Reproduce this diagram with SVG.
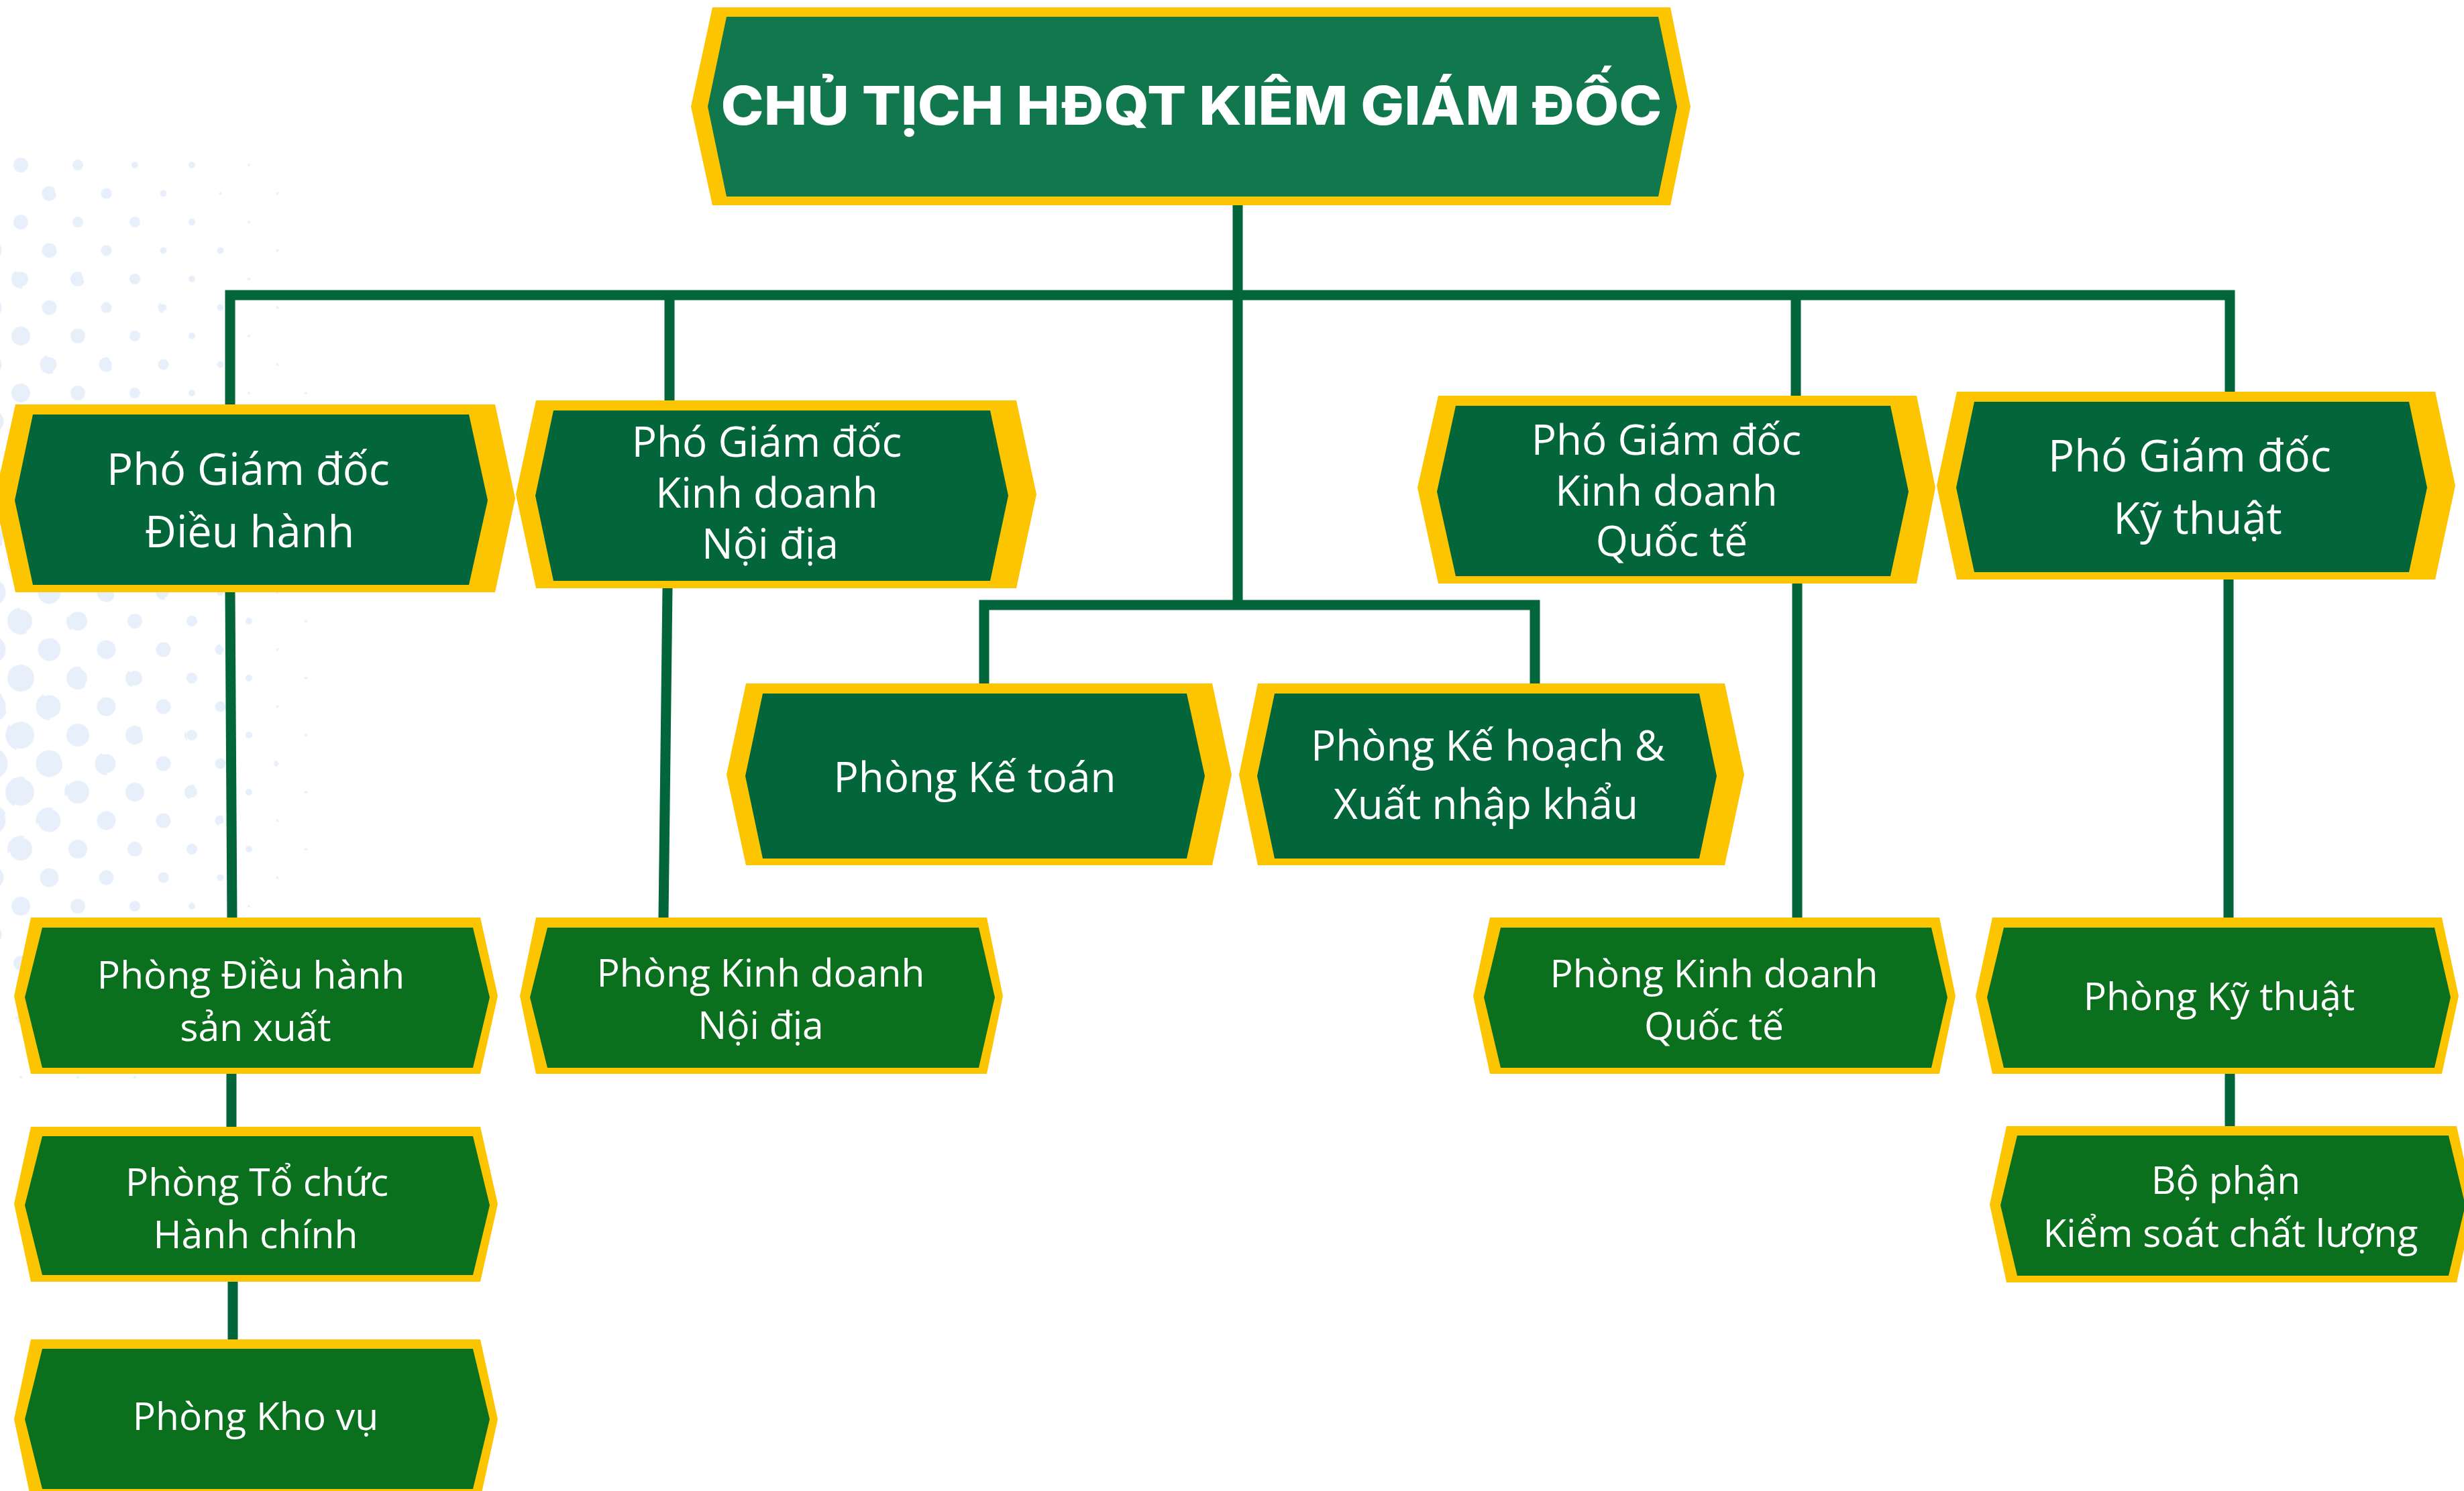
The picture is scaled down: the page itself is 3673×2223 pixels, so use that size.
<svg xmlns="http://www.w3.org/2000/svg" width="3673" height="2223" viewBox="0 0 3673 2223">
<style>
.y{fill:#FDC500}
.gt{fill:#11774D}
.g1{fill:#03663B}
.g2{fill:#0B701E}
.t{fill:#FFFFFF;font-family:"Open Sans","Noto Sans","Liberation Sans",sans-serif;text-anchor:middle}
.t1{font-size:65px}
.t2{font-size:62px}
.t3{font-size:57px}
.title{fill:#FFFFFF;font-family:Inter,"Open Sans","Liberation Sans",sans-serif;font-weight:800;font-size:80px;text-anchor:middle}
.ln{fill:none;stroke:#03653A;stroke-width:15;stroke-linejoin:miter}
</style>
<defs>
<pattern id="d2" patternUnits="userSpaceOnUse" x="-11.5" y="224.75" width="85" height="85"><g fill="#E7EFFA"><circle cx="42.5" cy="21.25" r="2"/><circle cx="0" cy="63.75" r="2"/><circle cx="85" cy="63.75" r="2"/></g></pattern>
<pattern id="d5" patternUnits="userSpaceOnUse" x="-11.5" y="224.75" width="85" height="85"><g fill="#E7EFFA"><circle cx="42.5" cy="21.25" r="5"/><circle cx="0" cy="63.75" r="5"/><circle cx="85" cy="63.75" r="5"/></g></pattern>
<pattern id="d8" patternUnits="userSpaceOnUse" x="-11.5" y="224.75" width="85" height="85"><g fill="#E7EFFA"><circle cx="42.5" cy="21.25" r="8"/><circle cx="0" cy="63.75" r="8"/><circle cx="85" cy="63.75" r="8"/></g></pattern>
<pattern id="d11" patternUnits="userSpaceOnUse" x="-11.5" y="224.75" width="85" height="85"><g fill="#E7EFFA"><circle cx="42.5" cy="21.25" r="11"/><circle cx="0" cy="63.75" r="11"/><circle cx="85" cy="63.75" r="11"/></g></pattern>
<pattern id="d14" patternUnits="userSpaceOnUse" x="-11.5" y="224.75" width="85" height="85"><g fill="#E7EFFA"><circle cx="42.5" cy="21.25" r="14"/><circle cx="42.5" cy="106.25" r="14"/><circle cx="0" cy="63.75" r="14"/><circle cx="85" cy="63.75" r="14"/></g></pattern>
<pattern id="d17" patternUnits="userSpaceOnUse" x="-11.5" y="224.75" width="85" height="85"><g fill="#E7EFFA"><circle cx="42.5" cy="21.25" r="17"/><circle cx="42.5" cy="106.25" r="17"/><circle cx="0" cy="63.75" r="17"/><circle cx="85" cy="63.75" r="17"/></g></pattern>
<pattern id="d20" patternUnits="userSpaceOnUse" x="-11.5" y="224.75" width="85" height="85"><g fill="#E7EFFA"><circle cx="42.5" cy="21.25" r="20"/><circle cx="42.5" cy="106.25" r="20"/><circle cx="0" cy="63.75" r="20"/><circle cx="85" cy="63.75" r="20"/></g></pattern>
<pattern id="d23" patternUnits="userSpaceOnUse" x="-11.5" y="224.75" width="85" height="85"><g fill="#E7EFFA"><circle cx="42.5" cy="21.25" r="23"/><circle cx="42.5" cy="106.25" r="23"/><circle cx="0" cy="63.75" r="23"/><circle cx="85" cy="63.75" r="23"/></g></pattern>
</defs>
<rect x="0" y="0" width="3673" height="2223" fill="#FFFFFF"/>
<g id="background-dots">
<polygon fill="url(#d2)" points="0,222 437,222 465,700 478,1180 448,1400 303,1600 0,1658"/>
<polygon fill="url(#d5)" points="0,222 312,222 381,700 416,1180 339,1400 0,1596"/>
<polygon fill="url(#d8)" points="0,222 187,222 298,700 354,1180 231,1400 0,1534"/>
<polygon fill="url(#d11)" points="0,222 62,222 215,700 291,1180 123,1400 0,1471"/>
<polygon fill="url(#d14)" points="0,337 132,700 229,1180 14,1400 0,1409"/>
<polygon fill="url(#d17)" points="0,567 48,700 166,1180 0,1346"/>
<polygon fill="url(#d20)" points="0,797 104,1180 0,1284"/>
<polygon fill="url(#d23)" points="0,1027 42,1180 0,1222"/>
</g>
<g id="connectors">
<path class="ln" d="M343,604 V440 H3324 V584"/>
<path class="ln" d="M998,440 V597"/>
<path class="ln" d="M2677,440 V590"/>
<path class="ln" d="M1845,306 V902"/>
<path class="ln" d="M1467,1019 V902 H2288 V1019"/>
<path class="ln" d="M343,883 L346,1368"/>
<path class="ln" d="M345,1601 V1680"/>
<path class="ln" d="M347,1911 V1997"/>
<path class="ln" d="M995,877 L989,1368"/>
<path class="ln" d="M2679,870 V1368"/>
<path class="ln" d="M3322,864 V1368"/>
<path class="ln" d="M3324,1601 V1679"/>
</g>
<g id="node-chairman">
<polygon class="y" points="1062,11 2490,11 2520,159 2490,306 1062,306 1030,159"/>
<polygon class="gt" points="1083,25 2472,25 2500,159 2472,293 1083,293 1055,159"/>
<text class="title" x="1776" y="186" textLength="1403" lengthAdjust="spacingAndGlyphs">CHỦ TỊCH HĐQT KIÊM GIÁM ĐỐC</text>
</g>
<g id="node-pgd-dieuhanh">
<polygon class="y" points="23,603 738,603 768,743 738,883 23,883 -8,743"/>
<polygon class="g1" points="49,618 699,618 727,746 699,872 49,872 22,746"/>
<text class="t t1" x="370" y="723">Phó Giám đốc</text>
<text class="t t1" x="372" y="816">Điều hành</text>
</g>
<g id="node-pgd-kd-noidia">
<polygon class="y" points="799,597 1515,597 1545,737 1515,877 799,877 769,737"/>
<polygon class="g1" points="825,612 1476,612 1503,739 1476,866 825,866 798,739"/>
<text class="t t2" x="1143" y="681">Phó Giám đốc</text>
<text class="t t2" x="1143" y="757">Kinh doanh</text>
<text class="t t2" x="1148" y="833">Nội địa</text>
</g>
<g id="node-pgd-kd-quocte">
<polygon class="y" points="2144,590 2857,590 2885,727 2857,870 2144,870 2113,727"/>
<polygon class="g1" points="2170,605 2818,605 2845,733 2818,859 2170,859 2142,733"/>
<text class="t t2" x="2484" y="678">Phó Giám đốc</text>
<text class="t t2" x="2484" y="754">Kinh doanh</text>
<text class="t t2" x="2492" y="829">Quốc tế</text>
</g>
<g id="node-pgd-kythuat">
<polygon class="y" points="2917,584 3630,584 3660,724 3630,864 2917,864 2887,724"/>
<polygon class="g1" points="2943,599 3591,599 3618,727 3591,853 2943,853 2916,727"/>
<text class="t t1" x="3264" y="703">Phó Giám đốc</text>
<text class="t t1" x="3276" y="796">Kỹ thuật</text>
</g>
<g id="node-ketoan">
<polygon class="y" points="1112,1019 1807,1019 1836,1155 1807,1290 1112,1290 1083,1155"/>
<polygon class="g1" points="1137,1034 1769,1034 1796,1157 1769,1280 1137,1280 1111,1157"/>
<text class="t t2" x="1453" y="1181">Phòng Kế toán</text>
</g>
<g id="node-kehoach-xnk">
<polygon class="y" points="1875,1019 2571,1019 2600,1155 2571,1290 1875,1290 1847,1155"/>
<polygon class="g1" points="1900,1034 2533,1034 2559,1157 2533,1280 1900,1280 1874,1157"/>
<text class="t t2" x="2218" y="1134">Phòng Kế hoạch &amp;</text>
<text class="t t2" x="2215" y="1221">Xuất nhập khẩu</text>
</g>
<g id="node-p-dieuhanh-sx">
<polygon class="y" points="46,1368 716,1368 742,1485 716,1601 46,1601 21,1485"/>
<polygon class="g2" points="63,1383 705,1383 730,1487 705,1592 63,1592 37,1487"/>
<text class="t t3" x="374" y="1474">Phòng Điều hành</text>
<text class="t t3" x="381" y="1552">sản xuất</text>
</g>
<g id="node-p-tochuc">
<polygon class="y" points="46,1680 716,1680 742,1795 716,1911 46,1911 21,1795"/>
<polygon class="g2" points="63,1694 705,1694 730,1797 705,1901 63,1901 37,1797"/>
<text class="t t3" x="383" y="1783">Phòng Tổ chức</text>
<text class="t t3" x="381" y="1861">Hành chính</text>
</g>
<g id="node-p-khovu">
<polygon class="y" points="46,1997 716,1997 742,2116 716,2235 46,2235 21,2116"/>
<polygon class="g2" points="63,2011 705,2011 730,2116 705,2220 63,2220 37,2116"/>
<text class="t t3" x="381" y="2132">Phòng Kho vụ</text>
</g>
<g id="node-p-kd-noidia">
<polygon class="y" points="799,1368 1471,1368 1495,1485 1471,1601 799,1601 775,1485"/>
<polygon class="g2" points="816,1383 1459,1383 1483,1487 1459,1592 816,1592 790,1487"/>
<text class="t t3" x="1134" y="1471">Phòng Kinh doanh</text>
<text class="t t3" x="1134" y="1549">Nội địa</text>
</g>
<g id="node-p-kd-quocte">
<polygon class="y" points="2221,1368 2891,1368 2915,1485 2891,1601 2221,1601 2196,1485"/>
<polygon class="g2" points="2237,1383 2879,1383 2903,1487 2879,1592 2237,1592 2212,1487"/>
<text class="t t3" x="2555" y="1472">Phòng Kinh doanh</text>
<text class="t t3" x="2555" y="1550">Quốc tế</text>
</g>
<g id="node-p-kythuat">
<polygon class="y" points="2970,1368 3640,1368 3665,1485 3640,1601 2970,1601 2945,1485"/>
<polygon class="g2" points="2987,1383 3629,1383 3653,1487 3629,1592 2987,1592 2962,1487"/>
<text class="t t3" x="3308" y="1506">Phòng Kỹ thuật</text>
</g>
<g id="node-bp-kscl">
<polygon class="y" points="2991,1679 3662,1679 3688,1796 3662,1912 2991,1912 2966,1796"/>
<polygon class="g2" points="3007,1693 3650,1693 3675,1797 3650,1902 3007,1902 2982,1797"/>
<text class="t t3" x="3318" y="1780">Bộ phận</text>
<text class="t t3" x="3325" y="1859">Kiểm soát chất lượng</text>
</g>
</svg>
